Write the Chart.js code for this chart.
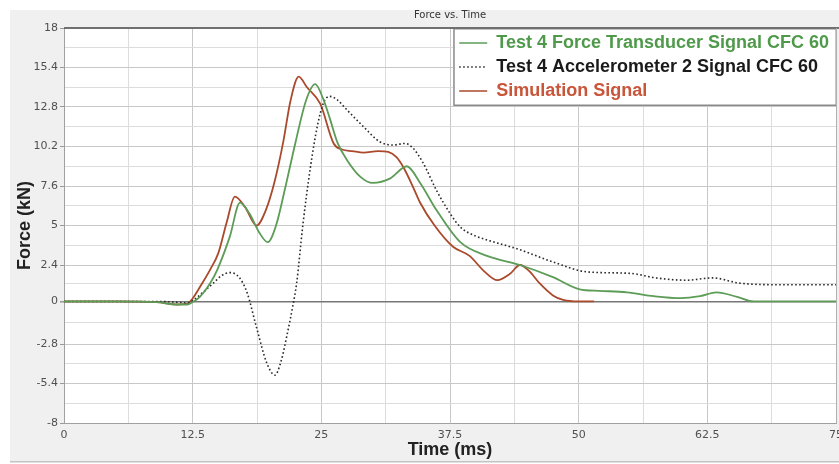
<!DOCTYPE html>
<html><head><meta charset="utf-8">
<script src="https://cdn.jsdelivr.net/npm/chart.js@4/dist/chart.umd.min.js"></script>
<style>
html,body{margin:0;padding:0;overflow:hidden;background:#fff;}
#wrap{width:850px;height:464px;}
</style></head><body>
<div id="wrap"><canvas id="c" width="850" height="464"></canvas></div>
<script>
const chartTitle = 'Force vs. Time';
const xAxisTitle = 'Time (ms)';
const yAxisTitle = 'Force (kN)';
const seriesNames = ['Test 4 Force Transducer Signal CFC 60', 'Test 4 Accelerometer 2 Signal CFC 60', 'Simulation Signal'];

const xTickValues = [0, 6.25, 12.5, 18.75, 25, 31.25, 37.5, 43.75, 50, 56.25, 62.5, 68.75, 75];
const xTickLabels = ['0', '', '12.5', '', '25', '', '37.5', '', '50', '', '62.5', '', '75'];
const yTickValues = [-8, -6.7, -5.4, -4.1, -2.8, -1.4, 0, 1.2, 2.4, 3.7, 5, 6.3, 7.6, 8.9, 10.2, 11.5, 12.8, 14.1, 15.4, 16.7, 18];
const yTickLabels = ['-8', '', '-5.4', '', '-2.8', '', '0', '', '2.4', '', '5', '', '7.6', '', '10.2', '', '12.8', '', '15.4', '', '18'];

const ftTime  = [0, 5, 9, 11, 12, 12.6, 13.2, 14.2, 14.9, 16.1, 17.1, 18.0, 19.0, 19.8, 20.6, 21.5, 22.5, 23.5, 24.4, 25.2, 25.8, 26.6, 27.5, 28.8, 30.0, 31.7, 33.3, 34.6, 36.2, 38.5, 41.1, 44.3, 47.5, 50.1, 52, 54.7, 57.3, 59.9, 61.8, 63.4, 65.4, 67, 75];
const ftForce = [0, 0, -0.05, -0.2, -0.2, 0, 0.3, 1.2, 2.1, 4.25, 6.5, 5.8, 4.5, 3.9, 5.0, 7.5, 10.5, 13.2, 14.3, 13.3, 12.1, 10.4, 9.3, 8.2, 7.8, 8.1, 8.9, 7.8, 6.0, 3.9, 3.0, 2.4, 1.6, 0.8, 0.7, 0.6, 0.35, 0.22, 0.35, 0.6, 0.3, 0, 0];

const accTime  = [0, 5, 9, 11, 12, 12.6, 13.5, 14.5, 15.3, 16.1, 17.0, 17.8, 18.7, 19.7, 20.5, 21.1, 21.7, 22.2, 22.6, 23.2, 23.9, 24.6, 25.2, 25.8, 26.5, 27.5, 29.1, 30.7, 32.0, 33.1, 33.9, 34.9, 36.2, 37.5, 38.5, 40, 41.1, 44.3, 47.5, 50.8, 55, 57.5, 60.5, 63, 65.7, 70, 75];
const accForce = [0, 0, 0, -0.05, -0.1, 0.1, 0.6, 1.2, 1.7, 1.9, 1.6, 0.55, -1.7, -4.05, -4.85, -3.9, -2.1, -0.4, 1.2, 5.0, 8.65, 11.5, 13.05, 13.5, 13.3, 12.6, 11.5, 10.5, 10.3, 10.4, 10.1, 9.1, 7.3, 5.8, 4.9, 4.3, 4.05, 3.4, 2.6, 1.95, 1.85, 1.55, 1.4, 1.55, 1.2, 1.1, 1.1];

const simTime  = [0, 5, 9, 11, 12, 12.5, 13.2, 14.2, 15.0, 15.8, 16.6, 17.6, 18.7, 19.6, 20.5, 21.3, 22.0, 22.8, 23.6, 24.9, 26.2, 27.0, 28.0, 29.1, 30.5, 31.5, 32.3, 33.0, 34.0, 34.6, 36.0, 37.8, 39.4, 40.8, 42.1, 43.3, 44.3, 45.2, 46.2, 47.5, 48.5, 50, 51.5];
const simForce = [0, 0, -0.05, -0.2, -0.15, 0.2, 0.95, 2.1, 3.2, 5.2, 6.9, 6.2, 5.0, 6.0, 8.0, 10.5, 13.2, 14.8, 14.1, 13.0, 10.4, 10.0, 9.9, 9.8, 9.9, 9.85, 9.5, 8.8, 7.4, 6.5, 5.0, 3.6, 3.0, 2.0, 1.4, 1.8, 2.4, 2.0, 1.2, 0.4, 0.1, 0, 0];

const lineColors = ['#5c9c56', '#2a2a2a', '#aa4a2c'];
const legendTextColors = ['#4f9a4a', '#1a1a1a', '#c9553a'];

const zip = (xs, ys) => xs.map((x, i) => ({x: x, y: ys[i]}));

Chart.defaults.font.family = "'DejaVu Sans', sans-serif";

const panelBg = {
  id: 'panelBg',
  beforeDraw(chart) {
    const ctx = chart.ctx, ca = chart.chartArea;
    ctx.save();
    ctx.fillStyle = '#ffffff';
    ctx.fillRect(0, 0, chart.width, chart.height);
    ctx.fillStyle = '#f0f0f0';
    ctx.fillRect(10, 10, chart.width - 10, 452);
    ctx.fillStyle = '#c4c4c4';
    ctx.fillRect(10, 461, chart.width - 10, 1.5);
    ctx.fillStyle = '#ffffff';
    ctx.fillRect(ca.left, ca.top, ca.right - ca.left, ca.bottom - ca.top);
    ctx.restore();
    const lg = chart.legend;
    if (lg && lg.legendHitBoxes && lg.legendHitBoxes.length) {
      const pad = lg.options.labels.padding;
      const maxW = Math.max(...lg.legendHitBoxes.map(h => h.width));
      const boxW = maxW + 2 * pad + 2;
      lg.left = ca.right + 1 - boxW;
      lg.top = ca.top;
      lg._frame = {x: lg.left, y: ca.top, w: boxW, h: pad + lg.legendHitBoxes.reduce((s, h) => s + h.height + pad, 0)};
      if (!lg._patched) {
        const orig = lg.draw.bind(lg);
        lg.draw = function(area) {
          const f = this._frame;
          if (f) {
            const c = chart.ctx;
            c.save();
            c.fillStyle = '#ffffff';
            c.fillRect(f.x, f.y, f.w, f.h);
            c.strokeStyle = '#8a8a8a';
            c.lineWidth = 1.5;
            c.strokeRect(f.x + 0.75, f.y + 0.75, f.w - 1.5, f.h - 1.5);
            c.restore();
          }
          orig(area);
        };
        lg._patched = true;
      }
    }
  },
  afterDraw(chart) {
    const ctx = chart.ctx, ca = chart.chartArea;
    ctx.save();
    ctx.strokeStyle = '#707070';
    ctx.lineWidth = 2;
    ctx.beginPath();
    ctx.moveTo(ca.left, ca.top);
    ctx.lineTo(ca.right + 3, ca.top);
    ctx.stroke();
    ctx.strokeStyle = '#b0b0b0';
    ctx.lineWidth = 1;
    ctx.beginPath();
    ctx.moveTo(ca.right + 0.5, ca.top);
    ctx.lineTo(ca.right + 0.5, ca.bottom);
    ctx.stroke();
    ctx.restore();
  }
};

new Chart(document.getElementById('c'), {
  type: 'line',
  data: {
    datasets: [
      {label: seriesNames[0], data: zip(ftTime, ftForce), borderColor: lineColors[0], backgroundColor: lineColors[0], borderWidth: 1.8, pointRadius: 0, cubicInterpolationMode: 'monotone', fill: false},
      {label: seriesNames[1], data: zip(accTime, accForce), borderColor: lineColors[1], backgroundColor: lineColors[1], borderWidth: 1.6, borderDash: [1.6, 2.4], pointRadius: 0, cubicInterpolationMode: 'monotone', fill: false},
      {label: seriesNames[2], data: zip(simTime, simForce), borderColor: lineColors[2], backgroundColor: lineColors[2], borderWidth: 1.8, pointRadius: 0, cubicInterpolationMode: 'monotone', fill: false}
    ]
  },
  options: {
    responsive: false,
    animation: false,
    devicePixelRatio: 1,
    layout: {padding: {left: 10, right: 14, top: 0, bottom: 3}},
    plugins: {
      title: {display: true, text: chartTitle, fullSize: false, color: '#333', font: {size: 10, weight: 'normal'}, padding: {top: 9, bottom: 7}},
      tooltip: {enabled: false},
      legend: {
        position: 'chartArea',
        align: 'start',
        labels: {
          usePointStyle: true,
          pointStyle: 'line',
          pointStyleWidth: 28,
          padding: 6,
          font: {family: "'Liberation Sans', Arial, sans-serif", size: 18, weight: 'bold'},
          generateLabels(chart) {
            const items = Chart.defaults.plugins.legend.labels.generateLabels(chart);
            items.forEach((it, i) => {
              it.fontColor = legendTextColors[i];
              it.lineWidth = 1.5;
              if (i === 1) { it.lineDash = [1.5, 2.5]; it.strokeStyle = '#222'; }
            });
            return items;
          }
        }
      }
    },
    scales: {
      x: {
        type: 'linear', min: 0, max: 75,
        afterBuildTicks(scale) { scale.ticks = xTickValues.map(v => ({value: v})); },
        afterFit(scale) { scale.height = 38; },
        ticks: {autoSkip: false, maxRotation: 0, padding: 2, color: '#505050', font: {size: 11}, callback: (v, i) => xTickLabels[i]},
        grid: {z: -1, tickLength: 4, tickColor: 'rgba(0,0,0,0)', color: (c) => (xTickLabels[c.index] ? '#c8c8c8' : '#dcdcdc')},
        border: {color: '#a0a0a0', width: 1},
        title: {display: true, text: xAxisTitle, color: '#222', font: {family: "'Liberation Sans', Arial, sans-serif", size: 18, weight: 'bold'}, padding: {top: 0, bottom: 0}}
      },
      y: {
        type: 'linear', min: -8, max: 18,
        afterBuildTicks(scale) { scale.ticks = yTickValues.map(v => ({value: v})); },
        afterFit(scale) { scale.width = 54; },
        ticks: {autoSkip: false, padding: 2, color: '#505050', font: {size: 11}, callback: (v, i) => yTickLabels[i]},
        grid: {z: -1, tickLength: 4,
          tickColor: (c) => (yTickLabels[c.index] ? '#999' : 'rgba(0,0,0,0)'),
          color: (c) => (yTickValues[c.index] === 0 ? '#777777' : (yTickLabels[c.index] ? '#c8c8c8' : '#dcdcdc')),
          lineWidth: (c) => (yTickValues[c.index] === 0 ? 1.6 : 1)},
        border: {color: '#a0a0a0', width: 1},
        title: {display: true, text: yAxisTitle, color: '#222', font: {family: "'Liberation Sans', Arial, sans-serif", size: 18, weight: 'bold'}, padding: {top: 4, bottom: 2}}
      }
    }
  },
  plugins: [panelBg]
});
</script>
</body></html>
